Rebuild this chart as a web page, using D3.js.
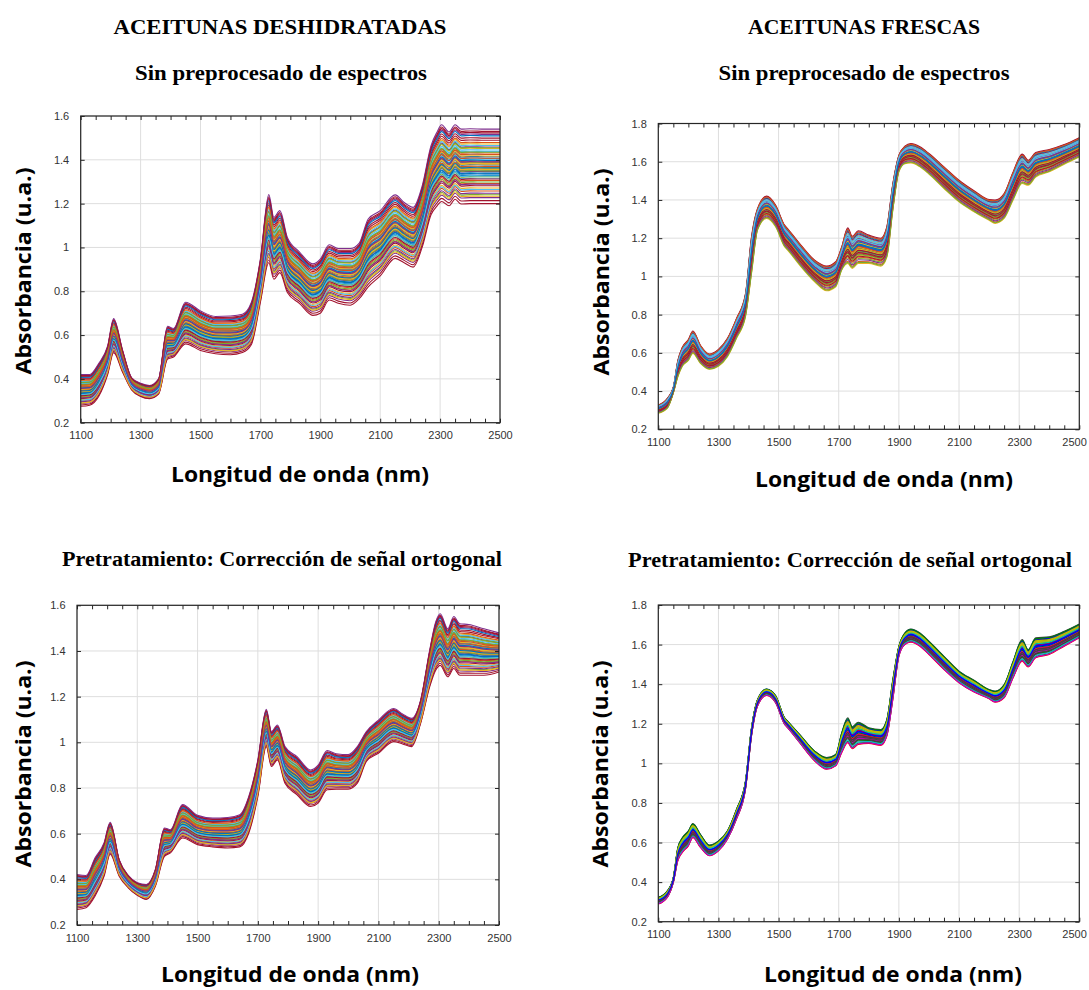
<!DOCTYPE html>
<html>
<head>
<meta charset="utf-8">
<script src="https://cdn.jsdelivr.net/npm/d3@7"></script>
<style>
  body { margin: 0; background: #fff; }
</style>
</head>
<body>
<div id="chart"></div>
<script>
const nmLeft = [1100,1130,1160,1190,1210,1240,1270,1300,1330,1360,1390,1410,1450,1500,1550,1600,1640,1670,1700,1728,1745,1765,1790,1830,1875,1900,1930,1960,2000,2030,2060,2100,2150,2180,2210,2240,2270,2290,2305,2330,2350,2370,2400,2450,2500];
const nmRight = [1100,1130,1150,1165,1180,1200,1215,1240,1270,1300,1330,1360,1390,1410,1430,1460,1490,1520,1530,1570,1620,1660,1690,1710,1730,1745,1765,1800,1840,1860,1880,1900,1920,1940,1970,2000,2050,2100,2150,2200,2220,2250,2280,2310,2330,2355,2400,2450,2500];

// ACEITUNAS DESHIDRATADAS, sin preprocesado: upper / lower edge of the bundle
const dehydRawHi = [0.42,0.42,0.47,0.55,0.675,0.53,0.405,0.38,0.37,0.40,0.64,0.63,0.75,0.71,0.685,0.687,0.695,0.75,0.947,1.241,1.137,1.168,1.046,0.98,0.925,0.947,1.012,0.995,0.995,1.02,1.13,1.168,1.24,1.205,1.183,1.28,1.466,1.527,1.56,1.527,1.56,1.54,1.542,1.54,1.54];
const dehydRawLo = [0.275,0.28,0.32,0.42,0.52,0.43,0.35,0.32,0.31,0.33,0.49,0.50,0.56,0.53,0.515,0.51,0.52,0.557,0.75,0.93,0.855,0.885,0.794,0.745,0.69,0.70,0.76,0.745,0.736,0.766,0.82,0.87,0.95,0.93,0.91,1.0,1.15,1.19,1.21,1.19,1.22,1.198,1.20,1.20,1.20];

// ACEITUNAS DESHIDRATADAS, correccion de senal ortogonal
const dehydOscHi = [0.421,0.417,0.494,0.56,0.65,0.486,0.417,0.385,0.377,0.443,0.625,0.617,0.727,0.68,0.668,0.671,0.683,0.763,0.923,1.145,1.047,1.076,0.981,0.937,0.879,0.90,0.964,0.95,0.946,0.981,1.047,1.097,1.148,1.124,1.105,1.185,1.403,1.527,1.563,1.497,1.551,1.519,1.516,1.497,1.479];
const dehydOscLo = [0.268,0.276,0.327,0.414,0.51,0.414,0.363,0.33,0.312,0.37,0.501,0.516,0.581,0.552,0.542,0.537,0.542,0.603,0.763,0.981,0.894,0.923,0.821,0.77,0.719,0.734,0.792,0.795,0.795,0.821,0.916,0.952,1.003,0.993,0.981,1.083,1.243,1.316,1.337,1.287,1.323,1.294,1.294,1.294,1.308];

// ACEITUNAS FRESCAS, sin preprocesado
const frescRawHi = [0.327,0.362,0.42,0.56,0.63,0.67,0.714,0.64,0.594,0.618,0.676,0.78,0.91,1.207,1.355,1.42,1.373,1.268,1.25,1.172,1.085,1.054,1.077,1.155,1.254,1.21,1.239,1.216,1.2,1.26,1.486,1.634,1.681,1.695,1.678,1.643,1.573,1.503,1.448,1.402,1.40,1.434,1.547,1.64,1.608,1.648,1.664,1.69,1.726];
const frescRawLo = [0.284,0.31,0.39,0.475,0.53,0.56,0.597,0.545,0.514,0.53,0.58,0.676,0.79,1.015,1.242,1.303,1.26,1.155,1.138,1.059,0.972,0.925,0.946,1.033,1.068,1.042,1.068,1.068,1.054,1.10,1.347,1.547,1.59,1.594,1.573,1.535,1.46,1.39,1.338,1.294,1.277,1.303,1.40,1.486,1.477,1.52,1.547,1.587,1.625];

// ACEITUNAS FRESCAS, correccion de senal ortogonal
const frescOscHi = [0.323,0.356,0.424,0.575,0.625,0.659,0.696,0.642,0.587,0.608,0.659,0.768,0.911,1.18,1.323,1.376,1.343,1.23,1.213,1.146,1.062,1.029,1.045,1.155,1.23,1.185,1.208,1.18,1.171,1.222,1.424,1.592,1.659,1.679,1.659,1.617,1.541,1.466,1.42,1.373,1.365,1.398,1.516,1.625,1.575,1.634,1.639,1.667,1.704];
const frescOscLo = [0.289,0.323,0.398,0.508,0.55,0.583,0.625,0.575,0.533,0.558,0.617,0.718,0.869,1.138,1.289,1.343,1.306,1.197,1.18,1.104,1.012,0.97,0.987,1.054,1.104,1.074,1.096,1.101,1.091,1.138,1.323,1.541,1.6,1.612,1.592,1.55,1.474,1.407,1.36,1.326,1.309,1.331,1.432,1.516,1.487,1.533,1.55,1.592,1.634];

// where each sample spectrum sits inside the bundle (0 = lower edge, 1 = upper edge)
const samplesLeft = [0.52,0.31,0.74,0.45,0.12,0.66,0.88,0.38,0.57,0.21,0.93,0.49,0.70,0.04,0.61,0.27,0.80,0.43,0.55,0.34,0.97,0.63,0.17,0.47,0.76,0.29,0.59,0.85,0.40,0.68,0.53,0.08,0.36,0.72,0.24,0.91,0.50,0.64,0.14,0.44,0.78,0.33,0.58,0.82,0.46,1.0,0.69,0.19,0.0,0.41,0.61,0.54,0.26,0.75,0.37,0.95,0.48,0.66,0.10,0.56];
const samplesRight = [0.55,0.32,0.78,0.44,0.15,0.67,0.90,0.38,0.60,0.24,0.97,0.50,0.72,0.29,0.63,0.06,0.83,0.46,0.57,0.35,1.0,0.65,0.19,0.48,0.76,0.27,0.58,0.87,0.41,0.70,0.0,0.53,0.36,0.74,0.22,0.93,0.51,0.62,0.11,0.45,0.80,0.33,0.59,0.96,0.43,0.69,0.03,0.85,0.40,0.56];

// line colour orders (new and old matlab defaults)
const colorsNew = ["#0072BD","#D95319","#EDB120","#7E2F8E","#77AC30","#4DBEEE","#A2142F"];
const colorsOld = ["#0000FF","#008000","#FF0000","#00BFBF","#BF00BF","#BFBF00","#404040"];

const xTicks = [1100,1300,1500,1700,1900,2100,2300,2500];
const xMinorTicks = d3.range(1100, 2501, 50);
const yTicksLeft = [0.2,0.4,0.6,0.8,1,1.2,1.4,1.6];
const yTicksRight = [0.2,0.4,0.6,0.8,1,1.2,1.4,1.6,1.8];

const xLabel = "Longitud de onda (nm)";
const yLabel = "Absorbancia (u.a.)";

const svg = d3.select("#chart")
  .append("svg")
  .attr("width", 1089)
  .attr("height", 990)
  .attr("style", "background-color: white");

const serif = "'Liberation Serif', 'DejaVu Serif', serif";
const sans = "'Open Sans', 'Noto Sans', sans-serif";

// panel layout (pixel boxes of the plot areas and text anchors)
const panels = [
  {id: "tl", box: [80.7, 116, 500, 422.7], yTicks: yTicksLeft, nm: nmLeft, hi: dehydRawHi, lo: dehydRawLo,
   samples: samplesLeft, colors: colorsNew,
   titles: [{t: "ACEITUNAS DESHIDRATADAS", x: 280, y: 34, w: 333}, {t: "Sin preprocesado de espectros", x: 281, y: 80, w: 292}],
   xl: {x: 300, y: 482}, yl: {x: 24, y: 271}},
  {id: "tr", box: [658.3, 123.5, 1079.3, 429.3], yTicks: yTicksRight, nm: nmRight, hi: frescRawHi, lo: frescRawLo,
   samples: samplesRight, colors: colorsNew,
   titles: [{t: "ACEITUNAS FRESCAS", x: 864, y: 33.5, w: 232}, {t: "Sin preprocesado de espectros", x: 864, y: 80, w: 291}],
   xl: {x: 884, y: 487}, yl: {x: 602, y: 272}},
  {id: "bl", box: [77, 605.3, 499, 925], yTicks: yTicksLeft, nm: nmLeft, hi: dehydOscHi, lo: dehydOscLo,
   samples: samplesLeft, colors: colorsNew,
   titles: [{t: "Pretratamiento: Corrección de señal ortogonal", x: 282, y: 566, w: 440}],
   xl: {x: 290, y: 982}, yl: {x: 24, y: 764}},
  {id: "br", box: [658.3, 605, 1079.3, 921.7], yTicks: yTicksRight, nm: nmRight, hi: frescOscHi, lo: frescOscLo,
   samples: samplesRight, colors: colorsOld,
   titles: [{t: "Pretratamiento: Corrección de señal ortogonal", x: 850, y: 566.5, w: 444}],
   xl: {x: 893, y: 982}, yl: {x: 601, y: 764}}
];

function drawPanel(p) {
  const [x0, y0, x1, y1] = p.box;
  const yMax = p.yTicks[p.yTicks.length - 1];
  const x = d3.scaleLinear().domain([1100, 2500]).range([x0, x1]);
  const y = d3.scaleLinear().domain([0.2, yMax]).range([y1, y0]);
  const g = svg.append("g");

  // grid
  g.append("g").selectAll("line").data(xTicks).join("line")
    .attr("x1", d => x(d)).attr("x2", d => x(d))
    .attr("y1", y0).attr("y2", y1)
    .attr("stroke", "#dedede").attr("stroke-width", 1);
  g.append("g").selectAll("line").data(p.yTicks).join("line")
    .attr("x1", x0).attr("x2", x1)
    .attr("y1", d => y(d)).attr("y2", d => y(d))
    .attr("stroke", "#dedede").attr("stroke-width", 1);

  // spectra, clipped to the axes box
  g.append("clipPath").attr("id", "clip-" + p.id)
    .append("rect").attr("x", x0).attr("y", y0).attr("width", x1 - x0).attr("height", y1 - y0);

  const line = d3.line()
    .x((d, i) => x(p.nm[i]))
    .y(d => y(d))
    .curve(d3.curveMonotoneX);

  g.append("g").attr("clip-path", "url(#clip-" + p.id + ")")
    .selectAll("path")
    .data(p.samples)
    .join("path")
    .attr("d", w => line(p.lo.map((v, i) => v + w * (p.hi[i] - v))))
    .attr("fill", "none")
    .attr("stroke", (w, k) => p.colors[k % p.colors.length])
    .attr("stroke-width", 1.1);

  // axes, matlab style box with inward ticks
  const fmtY = d => String(+d.toFixed(1));
  const fmtX = d => String(d);
  const axisStyle = sel => {
    sel.select(".domain").remove();
    sel.selectAll("line").attr("stroke", "#262626");
    sel.selectAll("text").attr("fill", "#333").attr("font-family", "'Liberation Sans', Arial, sans-serif").attr("font-size", 11);
  };
  g.append("g").attr("transform", `translate(0,${y1})`)
    .call(d3.axisBottom(x).tickValues(xMinorTicks).tickSize(-4).tickFormat(""))
    .call(axisStyle);
  const xAxisG = g.append("g").attr("transform", `translate(0,${y1})`)
    .call(d3.axisBottom(x).tickValues(xTicks).tickSize(0).tickPadding(9).tickFormat(fmtX))
    .call(axisStyle);
  // keep the last label inside the page, like the reference does
  xAxisG.selectAll("text").filter(d => d === 2500 && x1 > 1000)
    .attr("text-anchor", "end").attr("dx", 7);
  g.append("g").attr("transform", `translate(0,${y0})`)
    .call(d3.axisTop(x).tickValues(xMinorTicks).tickSize(-4).tickFormat(""))
    .call(axisStyle);
  g.append("g").attr("transform", `translate(${x0},0)`)
    .call(d3.axisLeft(y).tickValues(p.yTicks).tickSize(-4).tickPadding(11.5).tickFormat(fmtY))
    .call(axisStyle);
  g.append("g").attr("transform", `translate(${x1},0)`)
    .call(d3.axisRight(y).tickValues(p.yTicks).tickSize(-4).tickFormat(""))
    .call(axisStyle);

  g.append("rect")
    .attr("x", x0).attr("y", y0).attr("width", x1 - x0).attr("height", y1 - y0)
    .attr("fill", "none").attr("stroke", "#262626").attr("stroke-width", 1.2);

  // titles
  p.titles.forEach(t => {
    svg.append("text")
      .attr("x", t.x).attr("y", t.y)
      .attr("text-anchor", "middle")
      .attr("font-family", serif).attr("font-weight", "bold").attr("font-size", 20)
      .attr("textLength", t.w).attr("lengthAdjust", "spacingAndGlyphs")
      .text(t.t);
  });

  // axis labels
  svg.append("text")
    .attr("x", p.xl.x).attr("y", p.xl.y)
    .attr("text-anchor", "middle")
    .attr("font-family", sans).attr("font-weight", "bold").attr("font-size", 21)
    .attr("textLength", 258).attr("lengthAdjust", "spacingAndGlyphs")
    .text(xLabel);
  svg.append("text")
    .attr("transform", `translate(${p.yl.x + 7},${p.yl.y}) rotate(-90)`)
    .attr("text-anchor", "middle")
    .attr("font-family", sans).attr("font-weight", "bold").attr("font-size", 21)
    .attr("textLength", 207).attr("lengthAdjust", "spacingAndGlyphs")
    .text(yLabel);
}

panels.forEach(drawPanel);
</script>
</body>
</html>
